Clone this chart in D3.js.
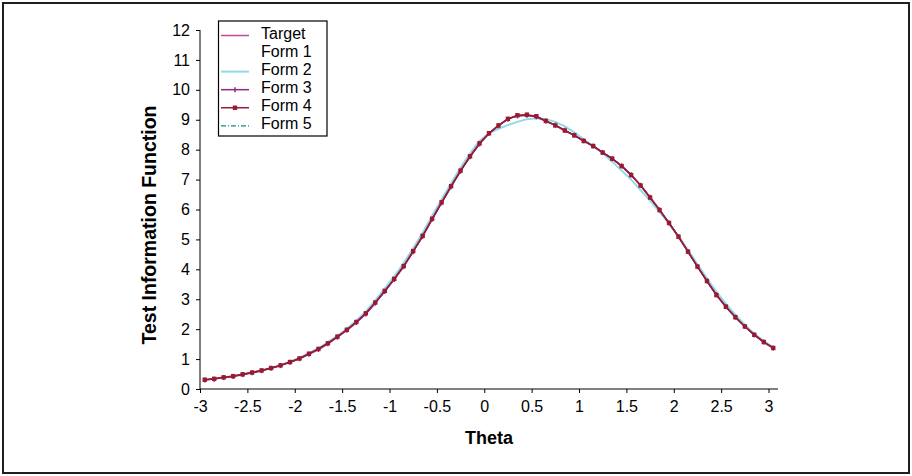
<!DOCTYPE html>
<html>
<head>
<meta charset="utf-8">
<script src="https://cdn.jsdelivr.net/npm/d3@7"></script>
<style>
  html, body { margin: 0; padding: 0; background: #fff; }
  svg { display: block; font-family: "Liberation Sans", Arial, sans-serif; }
</style>
</head>
<body>
<svg id="chart" width="912" height="476"></svg>
<script>
// ---- data ----
const theta = [-2.95,-2.85,-2.75,-2.65,-2.55,-2.45,-2.35,-2.25,-2.15,-2.05,
  -1.95,-1.85,-1.75,-1.65,-1.55,-1.45,-1.35,-1.25,-1.15,-1.05,
  -0.95,-0.85,-0.75,-0.65,-0.55,-0.45,-0.35,-0.25,-0.15,-0.05,
  0.05,0.15,0.25,0.35,0.45,0.55,0.65,0.75,0.85,0.95,
  1.05,1.15,1.25,1.35,1.45,1.55,1.65,1.75,1.85,1.95,
  2.05,2.15,2.25,2.35,2.45,2.55,2.65,2.75,2.85,2.95,3.05];

const target = [0.31,0.34,0.39,0.43,0.49,0.55,0.62,0.70,0.79,0.90,
  1.02,1.18,1.34,1.53,1.75,1.98,2.24,2.53,2.89,3.28,
  3.68,4.11,4.61,5.12,5.69,6.24,6.78,7.30,7.78,8.21,
  8.55,8.81,9.03,9.13,9.15,9.10,8.95,8.81,8.64,8.48,
  8.29,8.12,7.90,7.70,7.45,7.15,6.80,6.40,5.98,5.55,
  5.09,4.59,4.09,3.61,3.14,2.75,2.40,2.09,1.81,1.57,1.37];

const form1 = [0.31,0.34,0.39,0.43,0.49,0.55,0.62,0.70,0.79,0.90,
  1.02,1.18,1.34,1.53,1.75,1.98,2.24,2.53,2.89,3.28,
  3.68,4.11,4.61,5.12,5.69,6.24,6.78,7.30,7.78,8.21,
  8.55,8.81,9.03,9.13,9.15,9.10,8.95,8.81,8.64,8.48,
  8.29,8.12,7.90,7.70,7.45,7.15,6.80,6.40,5.98,5.55,
  5.09,4.59,4.09,3.61,3.14,2.75,2.40,2.09,1.81,1.57,1.37];

const form2 = [0.31,0.34,0.39,0.43,0.49,0.55,0.62,0.70,0.80,0.91,
  1.04,1.20,1.37,1.56,1.78,2.02,2.29,2.59,2.96,3.36,
  3.77,4.21,4.71,5.22,5.79,6.34,6.88,7.40,7.88,8.30,
  8.55,8.70,8.82,8.93,9.02,9.05,9.02,8.93,8.78,8.58,
  8.35,8.12,7.88,7.60,7.30,7.00,6.65,6.30,5.92,5.52,
  5.10,4.65,4.17,3.70,3.25,2.85,2.48,2.15,1.85,1.60,1.39];

const form3 = [0.30,0.33,0.38,0.42,0.48,0.54,0.61,0.69,0.78,0.89,
  1.01,1.16,1.32,1.51,1.73,1.96,2.22,2.51,2.87,3.26,
  3.66,4.09,4.59,5.10,5.67,6.22,6.76,7.28,7.76,8.19,
  8.54,8.80,9.02,9.13,9.15,9.10,8.96,8.82,8.65,8.48,
  8.30,8.12,7.91,7.70,7.46,7.16,6.81,6.41,5.99,5.55,
  5.09,4.59,4.09,3.61,3.15,2.75,2.40,2.09,1.81,1.57,1.37];

const form4 = [0.31,0.34,0.39,0.43,0.49,0.55,0.62,0.70,0.79,0.90,
  1.02,1.18,1.34,1.53,1.75,1.98,2.24,2.53,2.89,3.28,
  3.68,4.11,4.61,5.12,5.69,6.24,6.78,7.30,7.78,8.21,
  8.55,8.81,9.03,9.15,9.17,9.12,8.96,8.81,8.64,8.48,
  8.29,8.12,7.90,7.70,7.45,7.15,6.80,6.40,5.98,5.55,
  5.09,4.59,4.09,3.61,3.14,2.75,2.40,2.09,1.81,1.57,1.37];

const form5 = [0.31,0.34,0.39,0.43,0.49,0.55,0.62,0.70,0.79,0.90,
  1.02,1.17,1.33,1.52,1.74,1.97,2.23,2.52,2.88,3.27,
  3.67,4.10,4.60,5.11,5.68,6.23,6.77,7.29,7.77,8.20,
  8.54,8.80,9.02,9.13,9.15,9.10,8.95,8.81,8.64,8.48,
  8.29,8.12,7.91,7.71,7.46,7.16,6.81,6.41,5.99,5.56,
  5.10,4.60,4.10,3.62,3.15,2.76,2.41,2.10,1.82,1.58,1.37];

const xTicks = [-3,-2.5,-2,-1.5,-1,-0.5,0,0.5,1,1.5,2,2.5,3];
const yTicks = [0,1,2,3,4,5,6,7,8,9,10,11,12];
const seriesNames = ["Target","Form 1","Form 2","Form 3","Form 4","Form 5"];

// ---- drawing ----
const svg = d3.select("#chart");
svg.append("rect").attr("x", 0).attr("y", 0).attr("width", 912).attr("height", 476).attr("fill", "#fff");
svg.append("rect").attr("x", 3).attr("y", 3).attr("width", 906).attr("height", 470)
  .attr("fill", "none").attr("stroke", "#231f20").attr("stroke-width", 2);

const x = d3.scaleLinear().domain([-3, 3.1]).range([200, 778]);
const y = d3.scaleLinear().domain([0, 12]).range([389, 30]);

// axes
const xAxis = svg.append("g").attr("transform", "translate(0,389)")
  .call(d3.axisBottom(x).tickValues(xTicks).tickSize(4).tickPadding(8).tickFormat(d => String(d)));
const yAxis = svg.append("g").attr("transform", "translate(200,0)")
  .call(d3.axisLeft(y).tickValues(yTicks).tickSize(4).tickPadding(6).tickFormat(d => String(d)));
[xAxis, yAxis].forEach(g => {
  g.select(".domain").attr("stroke", "#000").attr("stroke-width", 1);
  g.selectAll(".tick line").attr("stroke", "#000");
  g.selectAll(".tick text").attr("fill", "#000").style("font-size", "16px")
    .style("font-family", "'Liberation Sans', Arial, sans-serif");
});
xAxis.select(".domain").attr("d", `M${x(-3)},0H${x(3.1)}`);
yAxis.select(".domain").attr("d", `M0,${y(12)}V${y(0)}`);

// axis titles
svg.append("text").attr("x", 489).attr("y", 444).attr("text-anchor", "middle")
  .style("font-size", "18px").style("font-weight", "bold").text("Theta");
svg.append("text").attr("transform", "translate(156,225) rotate(-90)").attr("text-anchor", "middle")
  .style("font-size", "19.5px").style("font-weight", "bold").text("Test Information Function");

const line = d3.line().x((d, i) => x(theta[i])).y(d => y(d));

const styles = {
  "Target": { color: "#c0489c", width: 1.5, dash: null },
  "Form 1": { color: "#ffffff", width: 1, dash: null },
  "Form 2": { color: "#8fdbe6", width: 2, dash: null },
  "Form 3": { color: "#8c2a8e", width: 1.5, dash: null },
  "Form 4": { color: "#9a1b2f", width: 1.5, dash: null },
  "Form 5": { color: "#138a8a", width: 1.2, dash: "5,2,1,2" }
};
const data = { "Target": target, "Form 1": form1, "Form 2": form2, "Form 3": form3, "Form 4": form4, "Form 5": form5 };

const drawOrder = ["Form 1", "Form 2", "Target", "Form 5", "Form 3", "Form 4"];
drawOrder.forEach(name => {
  const s = styles[name];
  const p = svg.append("path").datum(data[name]).attr("d", line)
    .attr("fill", "none").attr("stroke", s.color).attr("stroke-width", s.width)
    .attr("stroke-linejoin", "round");
  if (s.dash) p.attr("stroke-dasharray", s.dash);
  if (name === "Form 3") {
    svg.append("g").selectAll("line").data(form3).join("line")
      .attr("x1", (d, i) => x(theta[i])).attr("x2", (d, i) => x(theta[i]))
      .attr("y1", d => y(d) - 2.5).attr("y2", d => y(d) + 2.5)
      .attr("stroke", s.color).attr("stroke-width", 1.5);
  }
  if (name === "Form 4") {
    svg.append("g").selectAll("rect").data(form4).join("rect")
      .attr("x", (d, i) => x(theta[i]) - 2.2).attr("y", d => y(d) - 2.2)
      .attr("width", 4.4).attr("height", 4.4).attr("fill", s.color);
  }
});

// legend
const lg = svg.append("g");
lg.append("rect").attr("x", 218.5).attr("y", 21).attr("width", 108.5).attr("height", 115)
  .attr("fill", "#fff").attr("stroke", "#000").attr("stroke-width", 1.2);
seriesNames.forEach((name, i) => {
  const base = 39 + i * 18.06;
  const s = styles[name];
  const ly = base - 3.5;
  const l = lg.append("line").attr("x1", 221).attr("x2", 249).attr("y1", ly).attr("y2", ly)
    .attr("stroke", s.color).attr("stroke-width", s.width);
  if (s.dash) l.attr("stroke-dasharray", s.dash);
  if (name === "Form 3") {
    lg.append("line").attr("x1", 235).attr("x2", 235).attr("y1", ly - 2.5).attr("y2", ly + 2.5)
      .attr("stroke", s.color).attr("stroke-width", 1.5);
  }
  if (name === "Form 4") {
    lg.append("rect").attr("x", 232.8).attr("y", ly - 2.2).attr("width", 4.4).attr("height", 4.4).attr("fill", s.color);
  }
  lg.append("text").attr("x", 261).attr("y", base).style("font-size", "16px").attr("fill", "#000").text(name);
});
</script>
</body>
</html>
